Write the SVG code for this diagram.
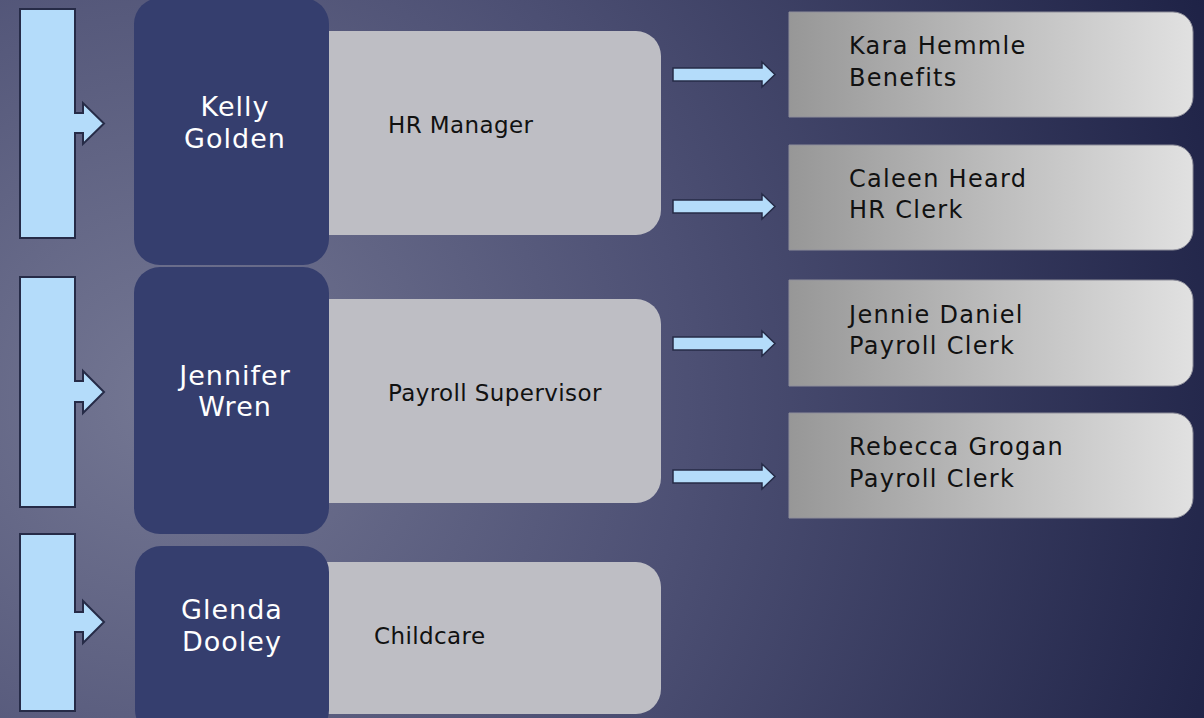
<svg xmlns="http://www.w3.org/2000/svg" width="1204" height="718" viewBox="0 0 1204 718">
<defs>
<radialGradient id="bg" gradientUnits="userSpaceOnUse" cx="170" cy="400" r="1150">
<stop offset="0" stop-color="#747793"/>
<stop offset="0.45" stop-color="#4d5074"/>
<stop offset="1" stop-color="#1b1f43"/>
</radialGradient>
<linearGradient id="leaf" x1="0" y1="0" x2="1" y2="0">
<stop offset="0" stop-color="#979797"/>
<stop offset="1" stop-color="#e1e1e1"/>
</linearGradient>
<style>
.brk{fill:#b4dcfa;stroke:#262b47;stroke-width:2;stroke-linejoin:miter}
.arr{fill:#b4dcfa;stroke:#262b47;stroke-width:1.5}
.dark{fill:#353e6e}
.mid{fill:#bebec4}
.leaf{fill:url(#leaf);stroke:#8e8e9a;stroke-width:1}
.nm{font-family:"DejaVu Sans","Liberation Sans",sans-serif;font-size:27px;fill:#ffffff;text-anchor:middle;letter-spacing:1px}
.rl{font-family:"DejaVu Sans","Liberation Sans",sans-serif;font-size:23px;fill:#111111;letter-spacing:0.4px}
.lf{font-family:"DejaVu Sans","Liberation Sans",sans-serif;font-size:24px;fill:#111111;letter-spacing:1.3px}
</style>
</defs>
<rect x="0" y="0" width="1204" height="718" fill="url(#bg)"/>

<g id="connectors">
<polygon class="brk" points="20,9 75,9 75,113 83,113 83,103 104,123.5 83,144 83,133 75,133 75,238 20,238"/>
<polygon class="brk" points="20,277 75,277 75,381 83,381 83,371 104,392 83,413 83,402 75,402 75,507 20,507"/>
<polygon class="brk" points="20,534 75,534 75,612 83,612 83,601 104,622 83,643 83,632 75,632 75,711 20,711"/>
<polygon class="arr" points="673,68 762,68 762,62 775,74.5 762,87 762,81 673,81"/>
<polygon class="arr" points="673,200 762,200 762,194 775,206.5 762,219 762,213 673,213"/>
<polygon class="arr" points="673,337 762,337 762,331 775,343.5 762,356 762,350 673,350"/>
<polygon class="arr" points="673,470 762,470 762,464 775,476.5 762,489 762,483 673,483"/>
</g>

<g id="hr-manager">
<path class="mid" d="M300,31 H636 A25,25 0 0 1 661,56 V210 A25,25 0 0 1 636,235 H300 Z"/>
<text class="rl" x="388" y="133">HR Manager</text>
</g>
<g id="kelly-golden">
<rect class="dark" x="134" y="-2" width="195" height="267" rx="26"/>
<text class="nm" x="235" y="116">Kelly</text>
<text class="nm" x="235" y="148">Golden</text>
</g>

<g id="payroll-supervisor">
<path class="mid" d="M300,299 H636 A25,25 0 0 1 661,324 V478 A25,25 0 0 1 636,503 H300 Z"/>
<text class="rl" x="388" y="401">Payroll Supervisor</text>
</g>
<g id="jennifer-wren">
<rect class="dark" x="134" y="267" width="195" height="267" rx="26"/>
<text class="nm" x="235" y="385">Jennifer</text>
<text class="nm" x="235" y="416">Wren</text>
</g>

<g id="childcare">
<path class="mid" d="M300,562 H636 A25,25 0 0 1 661,587 V689 A25,25 0 0 1 636,714 H300 Z"/>
<text class="rl" x="374" y="644" letter-spacing="1.2">Childcare</text>
</g>
<g id="glenda-dooley">
<rect class="dark" x="135" y="546" width="194" height="190" rx="26"/>
<text class="nm" x="232" y="619">Glenda</text>
<text class="nm" x="232" y="651">Dooley</text>
</g>

<g id="kara-hemmle">
<path class="leaf" d="M789,12 H1173 A20,20 0 0 1 1193,32 V97 A20,20 0 0 1 1173,117 H789 Z"/>
<text class="lf" x="849" y="54">Kara Hemmle</text>
<text class="lf" x="849" y="86">Benefits</text>
</g>
<g id="caleen-heard">
<path class="leaf" d="M789,145 H1173 A20,20 0 0 1 1193,165 V230 A20,20 0 0 1 1173,250 H789 Z"/>
<text class="lf" x="849" y="187">Caleen Heard</text>
<text class="lf" x="849" y="218">HR Clerk</text>
</g>
<g id="jennie-daniel">
<path class="leaf" d="M789,280 H1173 A20,20 0 0 1 1193,300 V366 A20,20 0 0 1 1173,386 H789 Z"/>
<text class="lf" x="849" y="323">Jennie Daniel</text>
<text class="lf" x="849" y="354">Payroll Clerk</text>
</g>
<g id="rebecca-grogan">
<path class="leaf" d="M789,413 H1173 A20,20 0 0 1 1193,433 V498 A20,20 0 0 1 1173,518 H789 Z"/>
<text class="lf" x="849" y="455">Rebecca Grogan</text>
<text class="lf" x="849" y="487">Payroll Clerk</text>
</g>
</svg>
